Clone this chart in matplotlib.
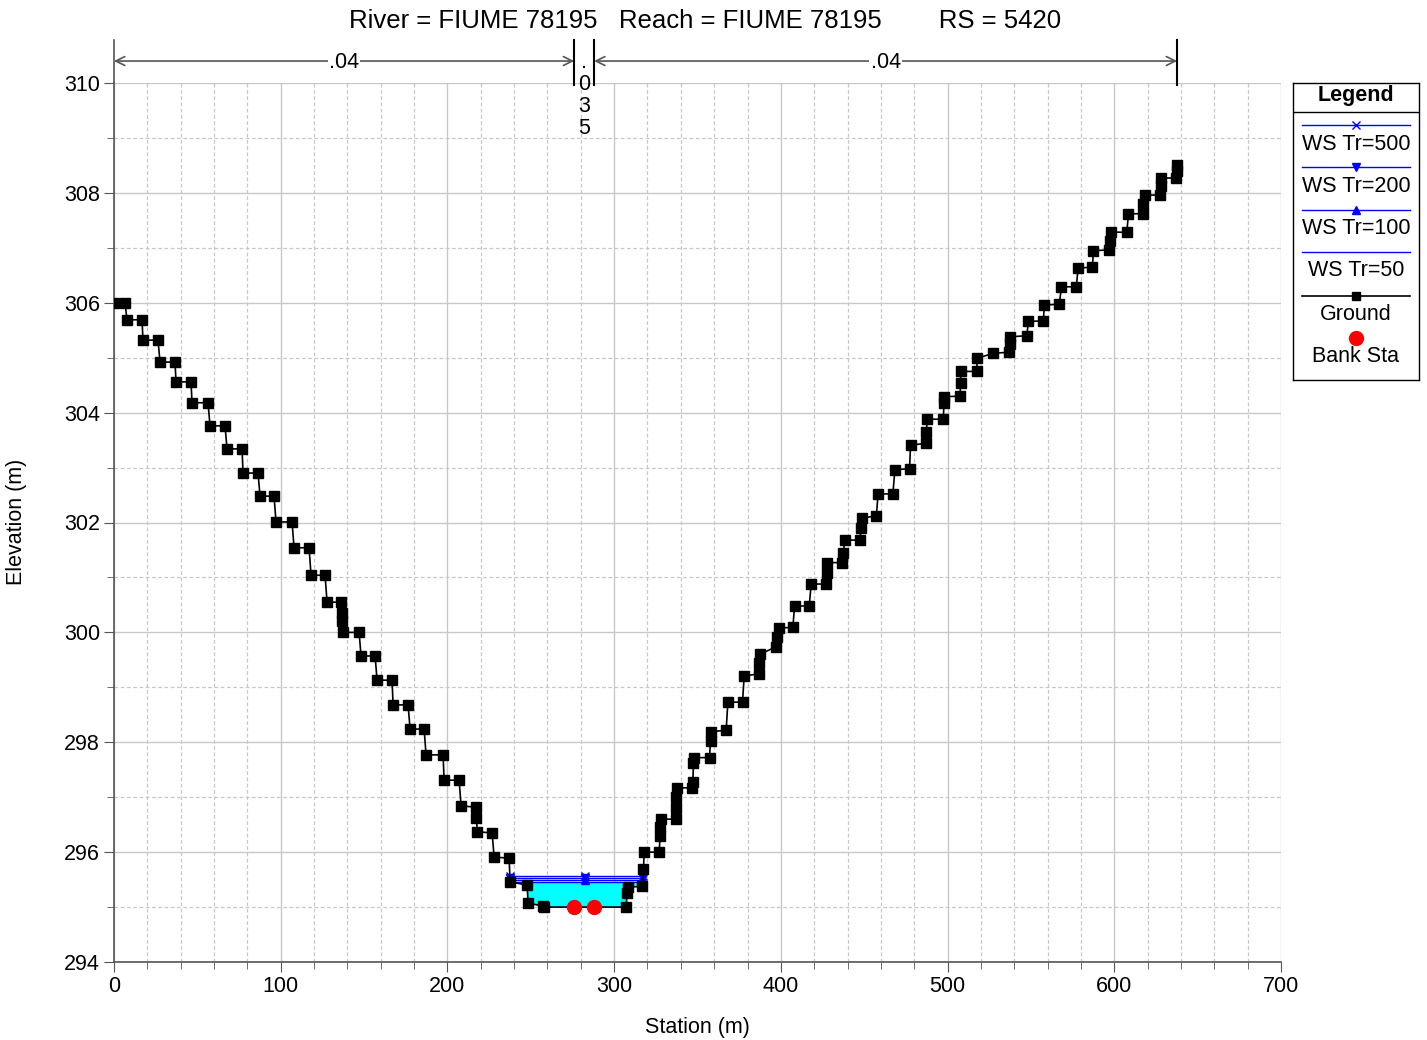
import numpy as np
import matplotlib.pyplot as plt

plt.rcParams['font.family'] = ['Liberation Sans', 'DejaVu Sans']

# Ground profile (station m, elevation m)
station = [0.0, 6.6, 7.8, 16.8, 17.4, 26.4, 27.6, 36.6, 37.2, 46.2,
           46.8, 56.4, 57.6, 66.6, 67.8, 76.8, 77.4, 86.4, 87.6, 96.0,
           97.2, 106.8, 108.0, 117.0, 118.2, 126.6, 127.8, 136.2, 136.6, 137.0,
           137.4, 147.0, 148.2, 156.6, 157.8, 166.8, 167.4, 176.4, 177.6, 186.0,
           187.2, 197.4, 198.0, 207.0, 208.2, 217.0, 217.3, 218.0, 226.8, 228.0,
           237.0, 237.6, 247.8, 248.4, 257.4, 258.0, 307.2, 307.8, 308.4, 317.0,
           317.6, 318.0, 327.0, 327.6, 327.8, 328.0, 337.0, 337.2, 337.4, 337.8,
           346.8, 347.2, 347.6, 348.0, 357.2, 357.8, 358.1, 367.2, 368.2, 377.0,
           378.0, 386.8, 387.0, 387.4, 397.2, 397.6, 398.6, 407.2, 408.2, 417.0,
           418.2, 427.0, 427.4, 427.8, 436.8, 437.4, 438.4, 447.5, 448.0, 448.5,
           457.3, 458.3, 467.2, 468.4, 477.2, 477.8, 487.0, 487.2, 487.9, 497.5,
           497.8, 498.0, 507.5, 507.8, 508.0, 517.4, 517.8, 527.5, 537.0, 537.3,
           537.5, 547.5, 548.5, 557.5, 558.0, 567.0, 568.3, 577.2, 578.3, 586.9,
           587.5, 597.1, 597.4, 597.8, 607.5, 608.5, 617.2, 617.5, 618.3, 627.5,
           627.8, 628.0, 637.2, 637.4, 637.7]
elevation = [306.00, 306.00, 305.69, 305.69, 305.32, 305.32, 304.92, 304.92, 304.56, 304.56,
             304.18, 304.18, 303.76, 303.76, 303.34, 303.34, 302.90, 302.90, 302.48, 302.48,
             302.01, 302.01, 301.54, 301.54, 301.04, 301.04, 300.55, 300.55, 300.35, 300.20,
             300.00, 300.00, 299.57, 299.57, 299.13, 299.13, 298.68, 298.68, 298.24, 298.24,
             297.77, 297.77, 297.31, 297.31, 296.84, 296.82, 296.62, 296.37, 296.35, 295.91,
             295.89, 295.46, 295.40, 295.07, 295.02, 295.00, 295.00, 295.26, 295.36, 295.38,
             295.69, 296.00, 296.00, 296.30, 296.45, 296.60, 296.60, 296.80, 297.00, 297.17,
             297.17, 297.27, 297.63, 297.72, 297.72, 298.03, 298.19, 298.22, 298.73, 298.73,
             299.20, 299.25, 299.45, 299.60, 299.74, 299.92, 300.08, 300.09, 300.48, 300.48,
             300.88, 300.88, 301.08, 301.27, 301.27, 301.44, 301.68, 301.68, 301.90, 302.08,
             302.12, 302.52, 302.52, 302.96, 302.98, 303.41, 303.44, 303.65, 303.88, 303.88,
             304.17, 304.29, 304.30, 304.54, 304.75, 304.75, 304.99, 305.08, 305.10, 305.25,
             305.38, 305.40, 305.66, 305.67, 305.96, 305.97, 306.29, 306.29, 306.63, 306.65,
             306.95, 306.96, 307.12, 307.29, 307.28, 307.62, 307.62, 307.80, 307.96, 307.96,
             308.12, 308.27, 308.27, 308.40, 308.51]

# Water surfaces
ws_names = ['WS Tr=500', 'WS Tr=200', 'WS Tr=100', 'WS Tr=50']
ws_elev = [295.57, 295.53, 295.49, 295.45]
ws_markers = ['x', 'v', '^', None]
ws_stations = [237.5, 282.6, 317.4]

# Bank stations
bank_sta = [276.0, 288.0]
bank_elev = [295.0, 295.0]

# Manning's n regions
n_breaks = [0.0, 276.0, 288.0, 637.7]
n_values = ['.04', '.035', '.04']

FS = 15.5
W, H = 1427, 1040
fig = plt.figure(figsize=(W / 100, H / 100), dpi=100)
ax = fig.add_axes([114 / W, 1 - 962 / H, (1281 - 114) / W, (962 - 83) / H])

st = np.array(station)
el = np.array(elevation)

# water fill (lowest profile)
wl = ws_elev[-1]
mask = (st >= ws_stations[0]) & (st <= ws_stations[-1])
ax.fill_between(st, el, wl, where=mask & (el <= wl), interpolate=True,
                color='cyan', lw=0, zorder=2)

for name, z, mk in zip(ws_names, ws_elev, ws_markers):
    ax.plot(ws_stations, [z] * len(ws_stations), color='blue', lw=1,
            marker=mk, markersize=6, zorder=3)

ax.plot(st, el, color='black', lw=1.2, marker='s', markersize=7, zorder=4)
ax.plot(bank_sta, bank_elev, 'o', color='red', markersize=10, zorder=5)

ax.set_xlim(0, 700)
ax.set_ylim(294, 310)
ax.set_xticks(np.arange(0, 701, 100))
ax.set_xticks(np.arange(0, 701, 20), minor=True)
ax.set_yticks(np.arange(294, 311, 2))
ax.set_yticks(np.arange(295, 310, 2), minor=True)
ax.grid(True, which='major', color='#c8c8c8', lw=1, linestyle='-')
ax.grid(True, which='minor', color='#c8c8c8', lw=0.9, linestyle=(0, (3, 2)))
ax.set_axisbelow(True)
ax.tick_params(which='major', length=7, color='#555555', labelsize=FS, pad=3)
ax.tick_params(which='minor', length=5, color='#555555')
for s in ['top', 'right']:
    ax.spines[s].set_visible(False)
for s in ['left', 'bottom']:
    ax.spines[s].set_color('#555555')
    ax.spines[s].set_linewidth(1.2)
fig.text(697 / W, 1 - 1027 / H, 'Station (m)', ha='center', va='center', fontsize=FS)
fig.text(17 / W, 1 - 522 / H, 'Elevation (m)', ha='center', va='center',
         rotation=90, fontsize=FS)

# Manning's n bracket above the plot
y_arrow = 310.40
y_bar_top = 310.78
ax.plot([0, 0], [310, y_bar_top], color='#555555', lw=1.2, clip_on=False)
for xb in n_breaks[1:]:
    ax.plot([xb, xb], [309.96, y_bar_top], color='black', lw=1.5, clip_on=False)
for (a, b), label in zip(zip(n_breaks[:-1], n_breaks[1:]), n_values):
    if b - a > 50:
        ax.annotate('', xy=(a, y_arrow), xytext=(b, y_arrow),
                    arrowprops=dict(arrowstyle='<->', color='#555555', lw=1.2,
                                    shrinkA=0, shrinkB=0, mutation_scale=16),
                    annotation_clip=False)
        ax.text((a + b) / 2, y_arrow - 0.03, label, ha='center', va='center', fontsize=FS,
                bbox=dict(facecolor='white', edgecolor='none', pad=1), clip_on=False)
    else:
        ax.text((a + b) / 2, 310.56, '\n'.join(label), ha='center', va='top',
                fontsize=FS, linespacing=1.05, clip_on=False)

fig.text(705 / W, 1 - 21 / H,
         'River = FIUME 78195   Reach = FIUME 78195        RS = 5420',
         ha='center', va='center', fontsize=18.5)

# Legend box
lg = fig.add_axes([1293 / W, 1 - 380 / H, 126 / W, 297 / H])
lg.set_xlim(0, 126)
lg.set_ylim(297, 0)
lg.set_xticks([])
lg.set_yticks([])
for s in lg.spines.values():
    s.set_color('black')
    s.set_linewidth(1)
lg.text(63, 13, 'Legend', ha='center', va='center', fontsize=FS, fontweight='bold')
lg.plot([0, 126], [29, 29], color='black', lw=1)
rows = [42, 84, 127, 169]
for y, name, mk in zip(rows, ws_names, ws_markers):
    lg.plot([9, 117], [y, y], color='blue', lw=1)
    if mk:
        lg.plot([63], [y], marker=mk, color='blue', markersize=6)
    lg.text(63, y + 19, name, ha='center', va='center', fontsize=FS)
lg.plot([9, 117], [213, 213], color='black', lw=1.2)
lg.plot([63], [213], marker='s', color='black', markersize=6)
lg.text(63, 232, 'Ground', ha='center', va='center', fontsize=FS)
lg.plot([63], [255], 'o', color='red', markersize=10)
lg.text(63, 274, 'Bank Sta', ha='center', va='center', fontsize=FS)

fig.savefig('out.png', dpi=100)
